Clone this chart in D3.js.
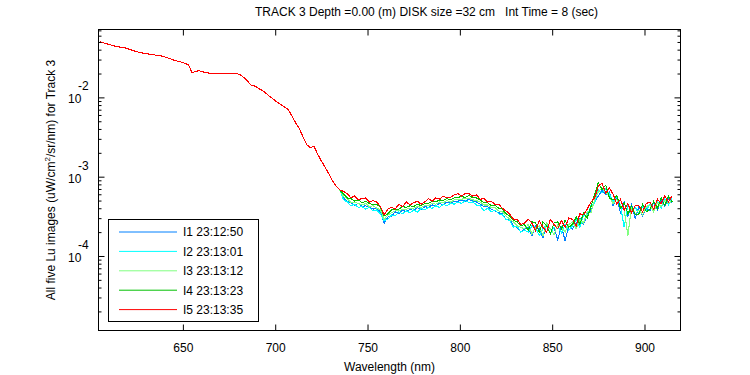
<!DOCTYPE html>
<html><head><meta charset="utf-8">
<script src="https://cdn.jsdelivr.net/npm/d3@7"></script>
<style>
body{margin:0;background:#fff}
text{font-family:"Liberation Sans",Arial,Helvetica,sans-serif;fill:#000}
</style>
</head><body>
<svg id="chart" width="750" height="375"></svg>
<script>
// ---------- DATA ----------
// wavelengths sampled every 2 nm from 605 to 915 nm
const wavelengths = d3.range(605, 916, 2);
// all values in units of 1e-4 uW/cm^2/sr/nm
const valueUnit = 1e-4;
// 605..735 nm : all five images coincide
const smoothPart = [
  505,488,472,458,444,434,426,419,405,390,377,368,360,354,348,342,338,330,320,308,296,287,279,270,258,
  205,214,216,209,204,202,202,202,202,202,202,202,201,
  193,178,160,142,139,130,122,113,103,95,87,81,76,70,59,48,40.5,32,25.5,23.2,24.2,19.2,15.8,13.2,10.9,8.9,7.6,6.8
];
// 737..915 nm, per image
const tailI1 = [
  5.4,4.9,4.7,4.4,4.6,4.2,4.3,4.1,3.9,4.0,
  3.6,2.6,3.1,3.2,3.6,3.4,3.8,3.6,3.9,3.7,
  4.1,3.8,4.2,4.1,4.4,4.3,4.6,4.4,4.8,4.6,
  4.9,4.9,5.1,4.9,5.2,4.9,4.8,4.5,4.2,4.2,
  3.9,3.7,3.5,3.4,2.9,2.9,2.4,2.3,2.0,2.2,
  2.3,1.8,2.4,2.2,1.7,2.5,1.9,2.3,1.6,2.4,
  1.55,2.4,2.2,2.6,3.0,2.5,3.4,3.7,4.9,5.7,
  6.8,5.9,6.4,4.3,5.3,3.5,4.8,3.2,4.4,3.0,
  4.2,3.2,4.0,3.7,4.7,3.8,5.1,4.2,5.3,4.6
];
const tailI2 = [
  5.1,4.8,4.3,4.5,4.1,4.2,3.9,4.1,3.7,3.8,
  3.4,2.8,2.9,3.3,3.2,3.6,3.4,3.7,3.5,3.8,
  3.6,4.0,3.8,4.1,4.0,4.3,4.1,4.5,4.3,4.6,
  4.5,4.8,4.6,5.0,4.7,4.8,4.4,4.3,3.7,4.0,
  3.6,3.8,3.4,3.3,2.9,2.8,2.3,2.4,2.0,2.1,
  2.0,2.4,2.3,1.8,2.2,2.5,1.9,2.3,2.4,1.95,
  2.5,2.1,2.4,2.9,2.3,3.3,3.1,4.4,4.6,6.9,
  6.2,7.1,6.0,4.8,5.6,4.4,2.3,4.5,3.6,4.1,
  3.4,4.2,3.8,4.5,3.9,5.0,4.0,5.3,4.4,5.4
];
const tailI3 = [
  5.6,5.3,4.7,4.8,4.6,4.4,4.6,4.2,4.3,4.0,
  3.8,2.9,3.3,3.5,3.7,3.7,3.9,3.9,4.0,4.0,
  4.2,4.1,4.3,4.3,4.6,4.5,4.8,4.7,5.0,4.8,
  5.1,5.2,5.2,5.3,5.3,5.1,5.0,4.8,4.4,4.4,
  4.1,4.1,3.7,3.6,3.2,2.9,2.7,2.4,2.3,2.2,
  2.5,1.9,2.3,2.4,1.8,2.6,2.2,1.85,2.5,2.3,
  2.0,2.5,2.7,2.2,2.9,2.6,3.6,3.5,5.1,6.4,
  7.2,6.4,5.6,4.6,5.2,4.3,3.9,1.8,4.2,3.4,
  3.8,3.3,4.2,4.4,3.6,4.7,4.2,5.0,4.6,5.0
];
const tailI4 = [
  6.0,5.4,5.3,4.9,5.1,4.7,4.9,4.6,4.4,4.5,
  4.1,3.2,3.4,3.8,3.9,3.9,4.2,4.1,4.3,4.2,
  4.5,4.3,4.6,4.6,4.9,4.8,5.1,5.0,5.3,5.1,
  5.4,5.5,5.6,5.5,5.8,5.4,5.4,5.1,4.7,4.7,
  4.3,4.4,4.0,3.9,3.4,3.2,2.8,2.7,2.4,2.5,
  2.1,2.7,2.6,2.0,2.7,2.4,1.9,2.6,2.7,2.2,
  2.8,2.3,2.5,3.1,2.5,3.5,3.0,4.2,6.0,8.4,
  6.9,7.8,5.4,5.1,5.8,4.0,4.7,3.4,4.3,3.3,
  3.4,4.5,3.6,3.9,4.9,4.0,5.4,4.3,5.7,4.8
];
const tailI5 = [
  6.5,6.1,5.4,5.7,5.1,5.3,5.4,4.8,5.0,4.8,
  4.2,3.3,3.9,4.1,3.9,4.5,4.2,4.8,4.4,4.7,
  4.9,4.5,4.8,5.3,4.9,5.4,5.2,5.7,5.4,5.5,
  5.9,6.1,5.7,6.2,6.1,5.7,5.9,5.2,5.3,4.8,
  4.9,4.5,4.5,4.0,3.7,3.4,2.9,2.9,2.5,2.6,
  2.9,2.6,2.1,2.8,2.3,2.0,2.9,2.5,2.2,2.8,
  2.3,3.0,2.9,2.4,3.4,3.3,3.9,4.8,5.4,7.6,
  8.3,6.2,7.2,6.0,4.5,5.2,3.8,4.6,3.5,4.3,
  4.3,3.6,4.6,4.8,3.9,5.2,4.6,5.7,4.8,5.8
];
const seriesNames = ["I1 23:12:50","I2 23:13:01","I3 23:13:12","I4 23:13:23","I5 23:13:35"];
const seriesColors = ["#0080ff","#00ffff","#80ff80","#00c000","#ff0000"];
const seriesTails = [tailI1, tailI2, tailI3, tailI4, tailI5];
const xTickValues = [650,700,750,800,850,900];
const yMajorTicks = [1e-4,1e-3,1e-2];
const yMajorLabels = ["-4","-3","-2"];
const titleText = "TRACK 3 Depth =0.00 (m) DISK size =32 cm   Int Time = 8 (sec)";
const xLabelText = "Wavelength (nm)";

// ---------- CHART ----------
const svg = d3.select("#chart");
const L = 98.5, R = 680.5, T = 29.5, B = 330.5;
const x = d3.scaleLinear().domain([604.3, 919.5]).range([L, R]);
const y = d3.scaleLog().domain([1.149e-5, 0.0718]).range([B, T]);

svg.append("rect").attr("width",750).attr("height",375).attr("fill","#fff");

svg.append("clipPath").attr("id","clip").append("rect")
  .attr("x",L).attr("y",T).attr("width",R-L).attr("height",B-T);

const series = seriesTails.map((tail,i) => ({
  name: seriesNames[i], color: seriesColors[i],
  values: smoothPart.concat(tail).map((v,j) => ({w: wavelengths[j], v: v*valueUnit}))
}));

const line = d3.line().x(d => x(d.w)).y(d => y(d.v));
svg.append("g").attr("clip-path","url(#clip)")
  .selectAll("path").data(series).join("path")
  .attr("d", d => line(d.values))
  .attr("fill","none").attr("stroke", d => d.color).attr("stroke-width",1.1)
  .attr("shape-rendering","crispEdges");

// axes
const isMajor = t => Math.abs(Math.log10(t) - Math.round(Math.log10(t))) < 1e-6;
const yMinor = y.ticks().filter(t => !isMajor(t));

function noDomain(g){ g.select(".domain").remove(); g.selectAll("line").attr("stroke","#000"); }

svg.append("g").attr("transform",`translate(0,${B})`)
  .call(d3.axisBottom(x).tickValues(xTickValues).tickSizeInner(-6).tickSizeOuter(0).tickPadding(12.5).tickFormat(d3.format("d")))
  .call(noDomain)
  .call(g => g.selectAll("text").attr("font-size",12).attr("font-family",null));
svg.append("g").attr("transform",`translate(0,${T})`)
  .call(d3.axisTop(x).tickValues(xTickValues).tickSizeInner(-6).tickSizeOuter(0).tickFormat(""))
  .call(noDomain);

svg.append("g").attr("transform",`translate(${L},0)`)
  .call(d3.axisLeft(y).tickValues(yMinor).tickSizeInner(-3).tickSizeOuter(0).tickFormat(""))
  .call(noDomain);
svg.append("g").attr("transform",`translate(${L},0)`)
  .call(d3.axisLeft(y).tickValues(yMajorTicks).tickSizeInner(-6).tickSizeOuter(0).tickFormat(""))
  .call(noDomain);
svg.append("g").attr("transform",`translate(${R},0)`)
  .call(d3.axisRight(y).tickValues(yMinor).tickSizeInner(-3).tickSizeOuter(0).tickFormat(""))
  .call(noDomain);
svg.append("g").attr("transform",`translate(${R},0)`)
  .call(d3.axisRight(y).tickValues(yMajorTicks).tickSizeInner(-6).tickSizeOuter(0).tickFormat(""))
  .call(noDomain);

// y major labels 10^n
yMajorTicks.forEach((t,i) => {
  const yy = y(t);
  svg.append("text").attr("x",68).attr("y",yy+6).attr("font-size",12).text("10");
  svg.append("text").attr("x",78).attr("y",yy-7).attr("font-size",12).text(yMajorLabels[i]);
});

// box
svg.append("rect").attr("x",L).attr("y",T).attr("width",R-L).attr("height",B-T)
  .attr("fill","none").attr("stroke","#000");

// title and labels
svg.append("text").attr("x",255).attr("y",16).attr("font-size",12)
  .attr("xml:space","preserve").style("white-space","pre").text(titleText);
svg.append("text").attr("x",(L+R)/2).attr("y",371).attr("font-size",12)
  .attr("text-anchor","middle").text(xLabelText);
const yl = svg.append("text").attr("transform",`translate(55,${(T+B)/2}) rotate(-90)`)
  .attr("font-size",12).attr("text-anchor","middle");
yl.append("tspan").text("All five Lu images (uW/cm");
yl.append("tspan").attr("font-size",8).attr("dy",-5).text("2");
yl.append("tspan").attr("dy",5).text("/sr/nm) for Track 3");

// legend
const lg = svg.append("g");
lg.append("rect").attr("x",108.5).attr("y",219.5).attr("width",150).attr("height",102)
  .attr("fill","#fff").attr("stroke","#000");
series.forEach((s,i) => {
  const yy = 232 + i*19.4;
  lg.append("line").attr("x1",119).attr("x2",177).attr("y1",yy).attr("y2",yy)
    .attr("stroke",s.color).attr("stroke-width",1);
  lg.append("text").attr("x",183).attr("y",yy+4.3).attr("font-size",12).text(s.name);
});
</script>
</body></html>
